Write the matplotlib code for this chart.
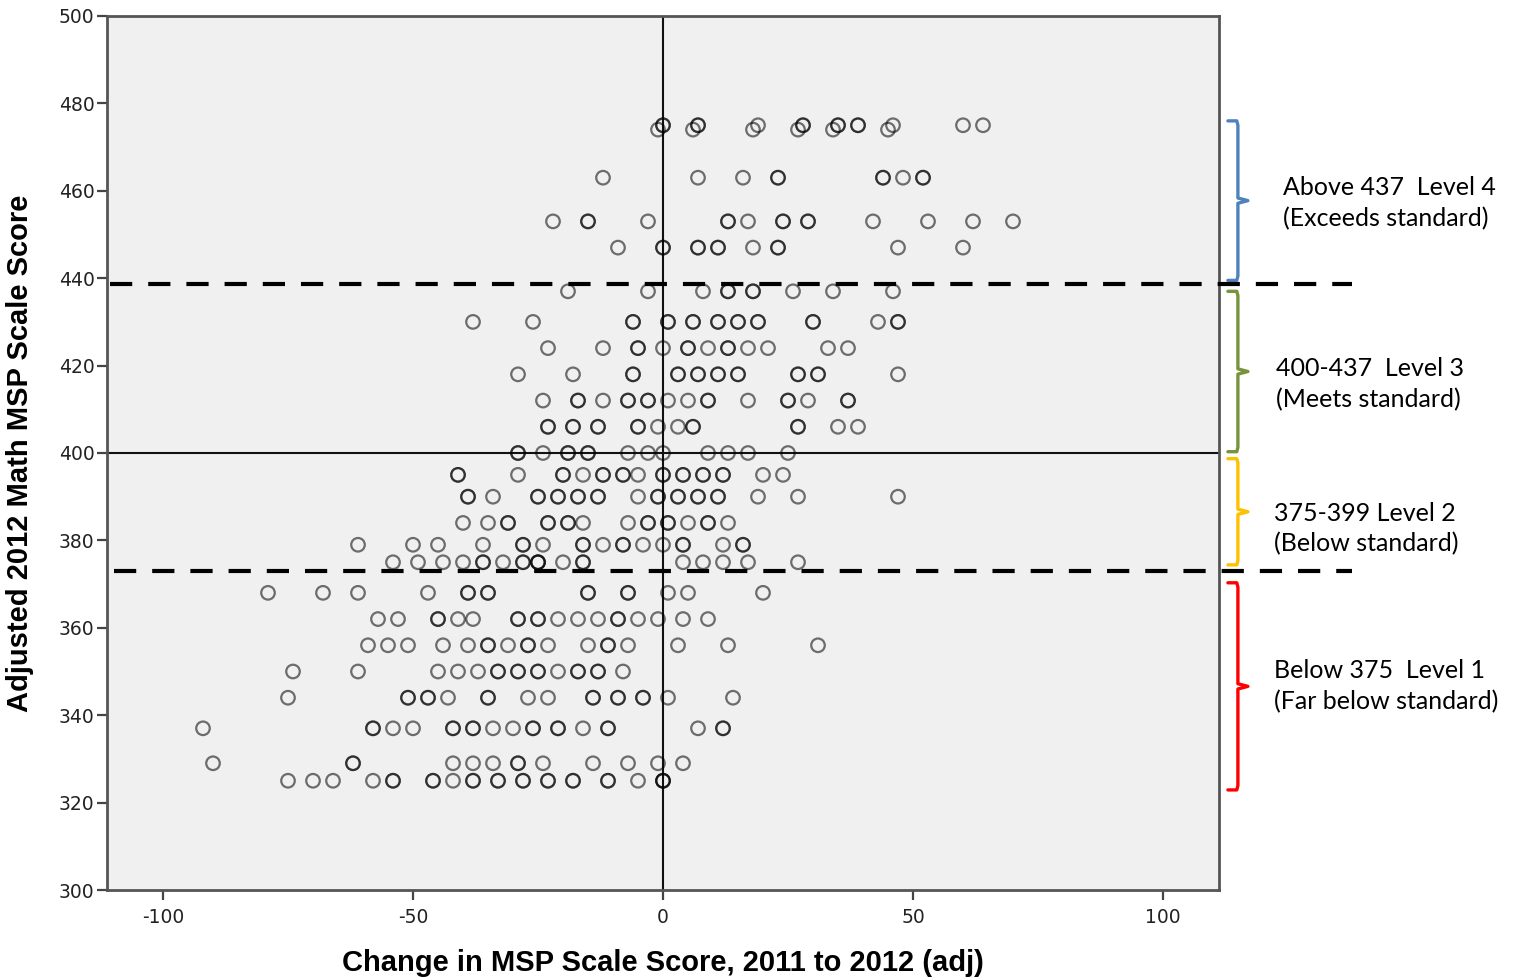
import matplotlib
matplotlib.use("Agg")
import matplotlib.pyplot as plt
import matplotlib.transforms as mtransforms
import matplotlib.ticker as ticker

# rows of adjusted 2012 scale score and the changes seen on each row
row_scores = [475, 474, 463, 453, 447, 437, 430, 424, 418, 412, 406, 400, 395, 390,
              384, 379, 375, 368, 362, 356, 350, 344, 337, 329, 325]
row_changes = [
    [0, 7, 19, 28, 28, 35, 39, 46, 60, 64],
    [-1, 6, 18, 27, 34, 45],
    [-12, 7, 16, 23, 44, 48, 52],
    [-22, -15, -3, 13, 17, 24, 29, 42, 53, 62, 70],
    [-9, 0, 7, 11, 18, 23, 47, 60],
    [-19, -3, 8, 13, 18, 26, 34, 46],
    [-38, -26, -6, 1, 6, 11, 15, 19, 30, 43, 47],
    [-23, -12, -5, 0, 5, 9, 13, 17, 21, 33, 37],
    [-29, -18, -6, 3, 7, 11, 15, 27, 31, 47],
    [-24, -17, -12, -7, -3, 1, 5, 9, 17, 25, 29, 37],
    [-23, -18, -13, -5, -1, 3, 6, 27, 35, 39],
    [-29, -24, -19, -15, -7, -3, 0, 9, 13, 17, 25],
    [-41, -29, -20, -16, -12, -8, -5, 0, 4, 8, 12, 20, 24],
    [-39, -34, -25, -21, -17, -13, -5, -1, 3, 7, 11, 19, 27, 47],
    [-40, -35, -31, -23, -19, -16, -7, -3, 1, 5, 9, 13],
    [-61, -50, -45, -36, -28, -24, -16, -12, -8, -4, 0, 4, 12, 16],
    [-54, -49, -44, -40, -36, -32, -28, -25, -20, -16, 4, 8, 12, 17, 27],
    [-79, -68, -61, -47, -39, -35, -15, -7, 1, 5, 20],
    [-57, -53, -45, -41, -38, -29, -25, -21, -17, -13, -9, -5, -1, 4, 9],
    [-59, -55, -51, -44, -39, -35, -31, -27, -23, -15, -11, -7, 3, 13, 31],
    [-74, -61, -45, -41, -37, -33, -29, -25, -21, -17, -13, -8],
    [-75, -51, -47, -43, -35, -27, -23, -14, -9, -4, 1, 14],
    [-92, -58, -54, -50, -42, -38, -34, -30, -26, -21, -16, -11, 7, 12],
    [-90, -62, -42, -38, -34, -29, -24, -14, -7, -1, 4],
    [-75, -70, -66, -58, -54, -46, -42, -38, -33, -28, -23, -18, -11, -5, 0],
]
# repeated students (drawn darker in the original)
row_repeats = [
    [0, 7, 35, 39], [], [23, 44, 52], [-15, 13, 24, 29], [0, 7, 11, 23],
    [13, 18], [-6, 1, 6, 11, 15, 19, 30, 47], [-5, 5, 13], [-6, 3, 7, 11, 15, 27, 31],
    [-17, -7, -3, 9, 25, 37], [-23, -18, -13, -5, 6, 27], [-29, -19, -15],
    [-41, -20, -12, -8, 0, 4, 8, 12], [-39, -25, -21, -17, -13, -1, 3, 7, 11],
    [-31, -23, -19, -3, 1, 9], [-28, -16, -8, 4, 16], [-36, -28, -25, -25, -16],
    [-39, -35, -15, -7], [-45, -29, -25, -9], [-35, -27, -11], [-33, -29, -25, -17, -13],
    [-51, -47, -35, -14, -9, -4], [-58, -42, -38, -26, -21, -11, 12], [-62, -29],
    [-54, -46, -38, -33, -28, -23, -18, -11, 0, 0],
]

xticks = [-100, -50, 0, 50, 100]
yticks = list(range(300, 501, 20))
cut_lines = [438.6, 373.1]

levels = ["Above 437  Level 4\n(Exceeds standard)",
          "400-437  Level 3\n(Meets standard)",
          "375-399 Level 2\n(Below standard)",
          "Below 375  Level 1\n(Far below standard)"]
level_spans = [(476, 439.5), (437, 400.3), (398.7, 374.4), (370.3, 322.9)]
level_text_y = [457.1, 415.7, 382.7, 346.7]
level_text_x = [1.0576, 1.0513, 1.0495, 1.0495]
level_colors = ["#4F81BD", "#77933C", "#FFC000", "#FF0000"]

plt.rcParams["lines.scale_dashes"] = False
plt.rcParams["font.family"] = "Liberation Sans"

fig = plt.figure(figsize=(15.22, 9.80), dpi=100)
ax = fig.add_axes([107 / 1522, 90 / 980, 1112 / 1522, 874 / 980])
ax.set_facecolor("#f0f0f0")

xs, ys = [], []
for s, ch, rep in zip(row_scores, row_changes, row_repeats):
    for c in ch + rep:
        xs.append(c)
        ys.append(s)
ax.scatter(xs, ys, s=95, facecolors="none", edgecolors=(0, 0, 0, 0.55),
           linewidths=1.6, zorder=3)

ax.axvline(0, color="#111111", lw=1.5, zorder=2)
ax.axhline(400, color="#111111", lw=1.5, zorder=2)

ax.set_xlim(-111.2, 111.2)
ax.set_ylim(300, 500)
ax.set_xticks(xticks)
ax.set_yticks(yticks)
# plain hyphen like the original, not a unicode minus
ax.xaxis.set_major_formatter(ticker.FuncFormatter(lambda v, p: "%d" % v))
ax.tick_params(direction="out", length=7, width=1.6, color="#444444",
               labelsize=13.5, labelcolor="#222222", labelfontfamily="DejaVu Sans")
ax.tick_params(axis="x", pad=6)
ax.tick_params(axis="y", pad=2)
for sp in ax.spines.values():
    sp.set_color("#555555")
    sp.set_linewidth(2)

ax.set_xlabel("Change in MSP Scale Score, 2011 to 2012 (adj)", fontsize=21,
              fontweight="bold", labelpad=16)
ax.set_ylabel("Adjusted 2012 Math MSP Scale Score", fontsize=21,
              fontweight="bold")
ax.yaxis.set_label_coords(-0.066, 0.5)

trans = mtransforms.blended_transform_factory(ax.transAxes, ax.transData)

# cut score lines drawn across into the margin
for yv, x0 in zip(cut_lines, [0.003, 0.006]):
    ax.plot([x0, 1.12], [yv, yv], transform=trans, color="black", lw=3,
            dashes=(16, 11.5), clip_on=False, zorder=4)

# level brackets and labels
for (top, bot), ty, tx, col, txt in zip(level_spans, level_text_y, level_text_x,
                                        level_colors, levels):
    mid = (top + bot) / 2
    bx = [1.008, 1.016, 1.017, 1.017, 1.026, 1.017, 1.017, 1.016, 1.008]
    by = [top, top, top - 1, mid + 0.6, mid, mid - 0.6, bot + 1, bot, bot]
    ax.plot(bx, by, transform=trans, color=col, lw=2.4, clip_on=False,
            solid_joinstyle="round", solid_capstyle="round")
    ax.text(tx, ty, txt, transform=trans, fontsize=18, family="Lato",
            va="center", ha="left", linespacing=1.4, color="black")

fig.savefig("out.png", dpi=100)
